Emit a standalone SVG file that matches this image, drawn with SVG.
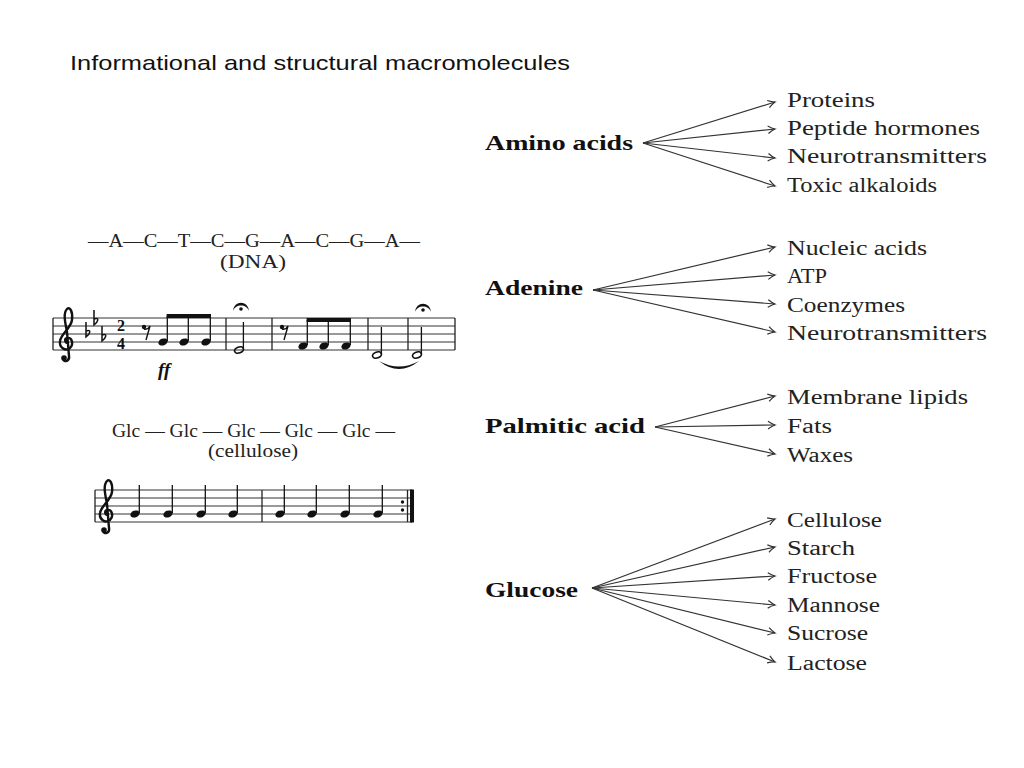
<svg xmlns="http://www.w3.org/2000/svg" width="1024" height="768" viewBox="0 0 1024 768">
<style>
.title{font-family:"Liberation Sans",Arial,sans-serif;font-size:21px;fill:#111}
.cm{font-family:"Liberation Serif","Times New Roman",serif;font-size:20.5px;fill:#222}
.cmb{font-family:"Liberation Serif","Times New Roman",serif;font-size:21px;font-weight:bold;fill:#111}
.seq{font-family:"Liberation Serif","Times New Roman",serif;font-size:18px;fill:#222}
.staff line{stroke:#333;stroke-width:1}
.bar{stroke:#222;stroke-width:1.3}
.stem{stroke:#111;stroke-width:1.3}
.head{fill:#111}
.half{fill:none;stroke:#111;stroke-width:1.7}
.conn line{stroke:#333;stroke-width:1.2;fill:none}
.tsig{font-family:"Liberation Serif","Times New Roman",serif;font-weight:bold;font-size:16px;fill:#111}
</style>
<defs>
<marker id="arr" markerUnits="userSpaceOnUse" markerWidth="12" markerHeight="12" refX="0" refY="0" viewBox="-9 -6 12 12" orient="auto" overflow="visible">
<path d="M-7,-3.8 Q-3,-1 0,0 Q-3,1 -7,3.8" fill="none" stroke="#333" stroke-width="1.2"/>
</marker>
<g id="clef">
<path d="M1,1 C-2,1 -3,-3 0,-4 C5,-5 7,2 3,6 C-2,10 -8,5 -7,-1 C-6,-8 4,-14 5,-22 C6,-30 3,-36 0,-33 C-4,-29 -2,-20 0,-10 L2,14 C3,19 -3,21 -4,17" fill="none" stroke="#111" stroke-width="2.4" stroke-linecap="round"/>
<circle cx="-3" cy="16" r="2.8" fill="#111"/>
</g>
<path id="flat" d="M0,-12 L0,3 C4,0 6,-5 0,-3" fill="none" stroke="#111" stroke-width="1.5"/>
<g id="fermata">
<path d="M-8,2 C-7,-9 7,-9 8,2 C6,-5.5 -6,-5.5 -8,2 Z" fill="#111"/>
<circle cx="0" cy="0" r="1.8" fill="#111"/>
</g>
<g id="rest">
<circle cx="-2" cy="-7" r="2.2" fill="#111"/>
<path d="M-2,-5 Q2,-4 4,-8 L0,6" fill="none" stroke="#111" stroke-width="1.4"/>
</g>
<ellipse id="nh" cx="0" cy="0" rx="4.8" ry="3.4" transform="rotate(-20)" class="head"/>
<ellipse id="hh" cx="0" cy="0" rx="4.6" ry="3" transform="rotate(-20)" class="half"/>
</defs>

<text class="title" x="70" y="70" textLength="500" lengthAdjust="spacingAndGlyphs">Informational and structural macromolecules</text>

<g id="dna-label">
<text class="seq" x="88" y="247" textLength="332" lengthAdjust="spacingAndGlyphs">—A—C—T—C—G—A—C—G—A—</text>
<text class="seq" x="253" y="268" text-anchor="middle" textLength="66" lengthAdjust="spacingAndGlyphs">(DNA)</text>
</g>

<g id="staff1">
<g class="staff">
<line x1="53" y1="318" x2="455" y2="318"/>
<line x1="53" y1="326" x2="455" y2="326"/>
<line x1="53" y1="334" x2="455" y2="334"/>
<line x1="53" y1="342" x2="455" y2="342"/>
<line x1="53" y1="350" x2="455" y2="350"/>
</g>
<line class="bar" x1="53" y1="318" x2="53" y2="350"/>
<line class="bar" x1="226" y1="318" x2="226" y2="350"/>
<line class="bar" x1="272" y1="318" x2="272" y2="350"/>
<line class="bar" x1="368" y1="318" x2="368" y2="350"/>
<line class="bar" x1="408" y1="318" x2="408" y2="350"/>
<line class="bar" x1="455" y1="318" x2="455" y2="350"/>
<use href="#clef" transform="translate(67,342)"/>
<use href="#flat" transform="translate(86,334)"/>
<use href="#flat" transform="translate(94,322)"/>
<use href="#flat" transform="translate(102,338)"/>
<text class="tsig" x="121" y="331" text-anchor="middle">2</text>
<text class="tsig" x="121" y="349" text-anchor="middle">4</text>
<use href="#rest" transform="translate(146,334)"/>
<use href="#nh" transform="translate(163,342)"/>
<use href="#nh" transform="translate(184,342)"/>
<use href="#nh" transform="translate(206,342)"/>
<line class="stem" x1="167.3" y1="341" x2="167.3" y2="316"/>
<line class="stem" x1="188.3" y1="341" x2="188.3" y2="316"/>
<line class="stem" x1="210.3" y1="341" x2="210.3" y2="316"/>
<rect x="166.6" y="314" width="44.4" height="4" fill="#111"/>
<use href="#hh" transform="translate(239,350)"/>
<line class="stem" x1="243.4" y1="349" x2="243.4" y2="322"/>
<use href="#fermata" transform="translate(241,309)"/>
<use href="#rest" transform="translate(284,334)"/>
<use href="#nh" transform="translate(303,346)"/>
<use href="#nh" transform="translate(324,346)"/>
<use href="#nh" transform="translate(346,346)"/>
<line class="stem" x1="307.3" y1="345" x2="307.3" y2="320"/>
<line class="stem" x1="328.3" y1="345" x2="328.3" y2="320"/>
<line class="stem" x1="350.3" y1="345" x2="350.3" y2="320"/>
<rect x="306.6" y="318" width="44.4" height="4" fill="#111"/>
<use href="#hh" transform="translate(377,355)"/>
<line class="stem" x1="381.4" y1="354" x2="381.4" y2="327"/>
<use href="#hh" transform="translate(417,355)"/>
<line class="stem" x1="421.4" y1="354" x2="421.4" y2="327"/>
<use href="#fermata" transform="translate(423,310)"/>
<path d="M379,361 Q399,377 419,361 Q399,372 379,361 Z" fill="#111"/>
<text x="158" y="376" font-family="Liberation Serif, serif" font-style="italic" font-weight="bold" font-size="19" fill="#111">ff</text>
</g>

<g id="cellulose-label">
<text class="seq" x="112" y="437" textLength="283" lengthAdjust="spacingAndGlyphs">Glc — Glc — Glc — Glc — Glc —</text>
<text class="seq" x="253" y="457" text-anchor="middle" textLength="90" lengthAdjust="spacingAndGlyphs">(cellulose)</text>
</g>

<g id="staff2">
<g class="staff">
<line x1="95" y1="490" x2="412" y2="490"/>
<line x1="95" y1="498" x2="412" y2="498"/>
<line x1="95" y1="506" x2="412" y2="506"/>
<line x1="95" y1="514" x2="412" y2="514"/>
<line x1="95" y1="522" x2="412" y2="522"/>
</g>
<line class="bar" x1="95" y1="490" x2="95" y2="522"/>
<line class="bar" x1="262" y1="490" x2="262" y2="522"/>
<line class="bar" x1="407.5" y1="490" x2="407.5" y2="522"/>
<rect x="410" y="489.5" width="4" height="33" fill="#111"/>
<circle cx="402.5" cy="502" r="1.7" fill="#111"/>
<circle cx="402.5" cy="510" r="1.7" fill="#111"/>
<use href="#clef" transform="translate(107,514)"/>
<use href="#nh" transform="translate(135,514)"/>
<use href="#nh" transform="translate(168,514)"/>
<use href="#nh" transform="translate(201,514)"/>
<use href="#nh" transform="translate(233,514)"/>
<use href="#nh" transform="translate(280,514)"/>
<use href="#nh" transform="translate(312,514)"/>
<use href="#nh" transform="translate(345,514)"/>
<use href="#nh" transform="translate(378,514)"/>
<line class="stem" x1="139.3" y1="513" x2="139.3" y2="485"/>
<line class="stem" x1="172.3" y1="513" x2="172.3" y2="485"/>
<line class="stem" x1="205.3" y1="513" x2="205.3" y2="485"/>
<line class="stem" x1="237.3" y1="513" x2="237.3" y2="485"/>
<line class="stem" x1="284.3" y1="513" x2="284.3" y2="485"/>
<line class="stem" x1="316.3" y1="513" x2="316.3" y2="485"/>
<line class="stem" x1="349.3" y1="513" x2="349.3" y2="485"/>
<line class="stem" x1="382.3" y1="513" x2="382.3" y2="485"/>
</g>

<g id="n-amino"><text class="cmb" x="485" y="150" textLength="148" lengthAdjust="spacingAndGlyphs">Amino acids</text></g>
<g id="n-proteins"><text class="cm" x="787" y="107" textLength="88" lengthAdjust="spacingAndGlyphs">Proteins</text></g>
<g id="n-peptide"><text class="cm" x="787" y="135" textLength="193" lengthAdjust="spacingAndGlyphs">Peptide hormones</text></g>
<g id="n-neuro1"><text class="cm" x="787" y="163" textLength="200" lengthAdjust="spacingAndGlyphs">Neurotransmitters</text></g>
<g id="n-toxic"><text class="cm" x="787" y="192" textLength="150" lengthAdjust="spacingAndGlyphs">Toxic alkaloids</text></g>

<g id="n-adenine"><text class="cmb" x="485" y="295" textLength="98" lengthAdjust="spacingAndGlyphs">Adenine</text></g>
<g id="n-nucleic"><text class="cm" x="787" y="255" textLength="140" lengthAdjust="spacingAndGlyphs">Nucleic acids</text></g>
<g id="n-atp"><text class="cm" x="787" y="283" textLength="40" lengthAdjust="spacingAndGlyphs">ATP</text></g>
<g id="n-coenz"><text class="cm" x="787" y="312" textLength="118" lengthAdjust="spacingAndGlyphs">Coenzymes</text></g>
<g id="n-neuro2"><text class="cm" x="787" y="340" textLength="200" lengthAdjust="spacingAndGlyphs">Neurotransmitters</text></g>

<g id="n-palmitic"><text class="cmb" x="485" y="433" textLength="160" lengthAdjust="spacingAndGlyphs">Palmitic acid</text></g>
<g id="n-membrane"><text class="cm" x="787" y="404" textLength="181" lengthAdjust="spacingAndGlyphs">Membrane lipids</text></g>
<g id="n-fats"><text class="cm" x="787" y="433" textLength="45" lengthAdjust="spacingAndGlyphs">Fats</text></g>
<g id="n-waxes"><text class="cm" x="787" y="462" textLength="66" lengthAdjust="spacingAndGlyphs">Waxes</text></g>

<g id="n-glucose"><text class="cmb" x="485" y="597" textLength="93" lengthAdjust="spacingAndGlyphs">Glucose</text></g>
<g id="n-cellulose"><text class="cm" x="787" y="527" textLength="95" lengthAdjust="spacingAndGlyphs">Cellulose</text></g>
<g id="n-starch"><text class="cm" x="787" y="555" textLength="68" lengthAdjust="spacingAndGlyphs">Starch</text></g>
<g id="n-fructose"><text class="cm" x="787" y="583" textLength="90" lengthAdjust="spacingAndGlyphs">Fructose</text></g>
<g id="n-mannose"><text class="cm" x="787" y="612" textLength="93" lengthAdjust="spacingAndGlyphs">Mannose</text></g>
<g id="n-sucrose"><text class="cm" x="787" y="640" textLength="81" lengthAdjust="spacingAndGlyphs">Sucrose</text></g>
<g id="n-lactose"><text class="cm" x="787" y="670" textLength="80" lengthAdjust="spacingAndGlyphs">Lactose</text></g>

<g id="connectors" class="conn">
<line x1="643" y1="143" x2="775" y2="102" marker-end="url(#arr)"/>
<line x1="643" y1="143" x2="775" y2="129" marker-end="url(#arr)"/>
<line x1="643" y1="143" x2="775" y2="158" marker-end="url(#arr)"/>
<line x1="643" y1="143" x2="775" y2="186" marker-end="url(#arr)"/>
<line x1="593" y1="290" x2="775" y2="247" marker-end="url(#arr)"/>
<line x1="593" y1="290" x2="775" y2="275" marker-end="url(#arr)"/>
<line x1="593" y1="290" x2="775" y2="304" marker-end="url(#arr)"/>
<line x1="593" y1="290" x2="775" y2="332" marker-end="url(#arr)"/>
<line x1="655" y1="427" x2="775" y2="396" marker-end="url(#arr)"/>
<line x1="655" y1="427" x2="775" y2="425" marker-end="url(#arr)"/>
<line x1="655" y1="427" x2="775" y2="454" marker-end="url(#arr)"/>
<line x1="592" y1="588" x2="775" y2="519" marker-end="url(#arr)"/>
<line x1="592" y1="588" x2="775" y2="547" marker-end="url(#arr)"/>
<line x1="592" y1="588" x2="775" y2="576" marker-end="url(#arr)"/>
<line x1="592" y1="588" x2="775" y2="605" marker-end="url(#arr)"/>
<line x1="592" y1="588" x2="775" y2="633" marker-end="url(#arr)"/>
<line x1="592" y1="588" x2="775" y2="662" marker-end="url(#arr)"/>
</g>
</svg>
